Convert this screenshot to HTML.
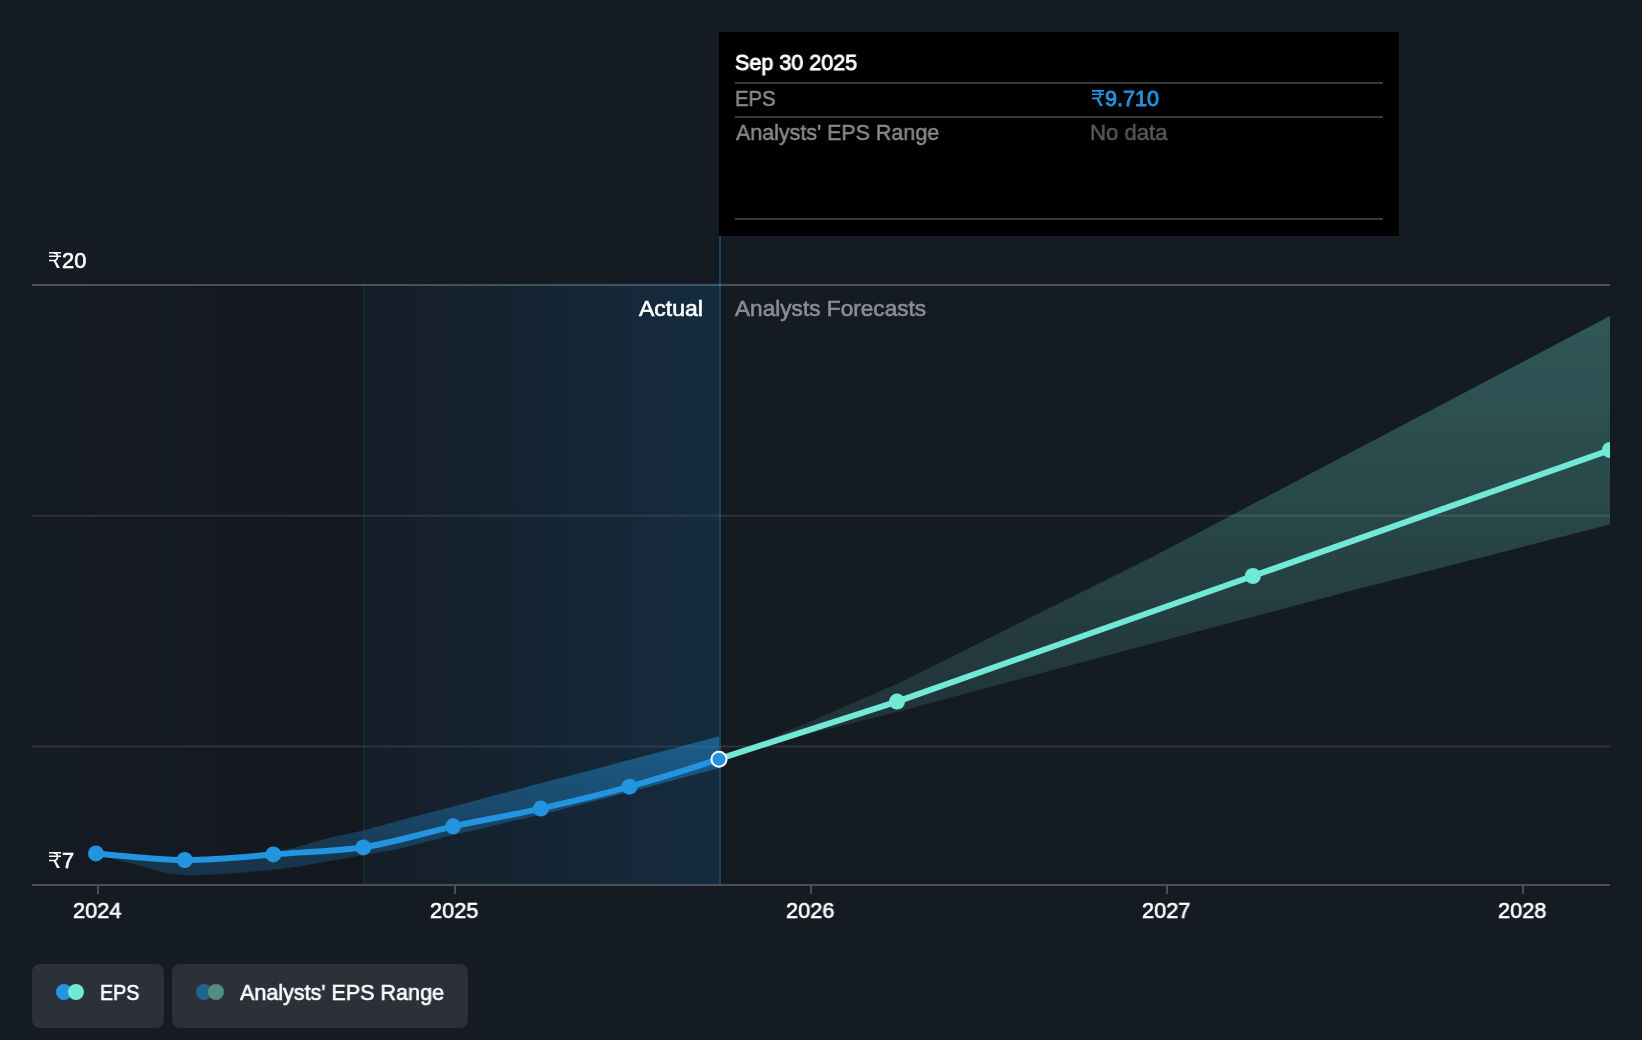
<!DOCTYPE html>
<html><head><meta charset="utf-8">
<style>
html,body{margin:0;padding:0;}
body{width:1642px;height:1040px;overflow:hidden;background:#151b23;position:relative;font-family:"Liberation Sans",sans-serif;}
.t{position:absolute;white-space:nowrap;line-height:1;font-size:23.5px;-webkit-text-stroke-width:0.6px;will-change:transform;transform-origin:0 0;}
svg.chart{position:absolute;left:0;top:0;}
.rs{display:inline-block;width:12px;height:16.3px;vertical-align:baseline;margin-right:1px;}
.sx{display:inline-block;transform-origin:0 0;}
.tip{position:absolute;left:719px;top:32px;width:680px;height:204px;background:#000;}
.sep{position:absolute;left:16px;width:648px;height:2px;background:#3a3a3a;}
.btn{position:absolute;top:964px;height:64px;background:#2c3039;border-radius:8px;}
.dot{position:absolute;width:16px;height:16px;border-radius:50%;top:20px;}
</style></head>
<body>
<svg class="chart" width="1642" height="1040" viewBox="0 0 1642 1040">
  <defs>
    <linearGradient id="gpast" x1="0" x2="1" y1="0" y2="0">
      <stop offset="0" stop-color="#000" stop-opacity="0"/>
      <stop offset="1" stop-color="#000" stop-opacity="0.12"/>
    </linearGradient>
    <linearGradient id="gact" x1="0" x2="1" y1="0" y2="0">
      <stop offset="0" stop-color="#146aaa" stop-opacity="0.03"/>
      <stop offset="1" stop-color="#146aaa" stop-opacity="0.21"/>
    </linearGradient>
    <linearGradient id="gband" gradientUnits="userSpaceOnUse" x1="0" x2="0" y1="736" y2="875">
      <stop offset="0" stop-color="#2394df" stop-opacity="0.478"/>
      <stop offset="1" stop-color="#2394df" stop-opacity="0.208"/>
    </linearGradient>
    <linearGradient id="gteal" gradientUnits="userSpaceOnUse" x1="0" x2="0" y1="316" y2="759">
      <stop offset="0" stop-color="#71e9d6" stop-opacity="0.297"/>
      <stop offset="1" stop-color="#71e9d6" stop-opacity="0.103"/>
    </linearGradient>
    <clipPath id="clip"><rect x="32" y="0" width="1578" height="886"/></clipPath>
  </defs>
  <!-- past shaded -->
  <rect x="32" y="286" width="331" height="598" fill="url(#gpast)"/>
  <!-- actual shaded -->
  
  <!-- gridlines -->
  <rect x="32" y="284" width="1578" height="2" fill="#4b4f56"/>
  <rect x="32" y="514.7" width="1578" height="2" fill="#2e323a"/>
  <rect x="32" y="745.5" width="1578" height="2" fill="#2e323a"/>
  <!-- vertical lines -->
  
  
  <!-- actual shaded -->
  <rect x="365" y="284" width="354" height="600" fill="url(#gact)"/>
  <!-- vertical lines -->
  <rect x="363" y="286" width="2" height="598" fill="#2394df" fill-opacity="0.1"/>
  <rect x="719" y="236" width="2" height="648" fill="#2394df" fill-opacity="0.35"/>
  <!-- axis -->
  <rect x="32" y="884" width="1578" height="2" fill="#4a4e55"/>
  <rect x="97" y="886" width="2" height="8" fill="#4a4e55"/>
  <rect x="454" y="886" width="2" height="8" fill="#4a4e55"/>
  <rect x="810" y="886" width="2" height="8" fill="#4a4e55"/>
  <rect x="1166" y="886" width="2" height="8" fill="#4a4e55"/>
  <rect x="1522" y="886" width="2" height="8" fill="#4a4e55"/>
  <g clip-path="url(#clip)">
  <!-- actual band -->
  <path d="M96,853.4 C101.7,855.0 115.2,859.4 130.0,863.0 C144.8,866.6 161.2,873.9 185.0,875.0 C208.8,876.1 248.8,872.1 273.0,869.7 C297.2,867.4 315.0,863.4 330.0,860.9 C345.0,858.4 351.3,857.1 363.0,855.0 C374.7,852.9 385.0,851.7 400.0,848.4 C415.0,845.1 433.0,839.9 453.0,835.0 C473.0,830.1 502.2,823.5 520.0,819.3 C537.8,815.1 540.0,814.9 560.0,809.9 C580.0,804.9 613.5,796.3 640.0,789.3 C666.5,782.3 705.8,771.5 719.0,768.0 L719,736.4 C704.2,740.3 659.7,752.0 630.0,759.8 C600.3,767.6 570.5,775.5 541.0,783.3 C511.5,791.1 476.5,800.3 453.0,806.5 C429.5,812.7 415.0,816.5 400.0,820.5 C385.0,824.5 374.7,827.6 363.0,830.5 C351.3,833.4 345.0,834.2 330.0,837.8 C315.0,841.4 297.2,848.3 273.0,852.0 C248.8,855.7 214.5,859.8 185.0,860.0 C155.5,860.2 110.8,854.5 96.0,853.4 Z" fill="url(#gband)"/>
  <!-- forecast band -->
  <path d="M719.3,758.8 L780,734.6 L897,684 L1150,558.2 L1253,504 L1612,315 L1612,524 L1350,591.1 L1150,643.9 L897,712 L780,741 Z" fill="url(#gteal)"/>
  <!-- actual line -->
  <path d="M96,853.4 C125,856 155,859.5 184.7,860 C215,860 245,857 273.3,854.4 C305,852 335,851 363.3,847.4 C395,842 425,833 453.1,826.3 C483,820 512,815 540.8,808.6 C570,802 600,795 629.5,786.7 C660,778 690,769 719.3,758.8" fill="none" stroke="#2394df" stroke-width="6" stroke-linejoin="round"/>
  <!-- forecast line -->
  <path d="M719.3,758.8 L897,701.6 L1252.9,576 L1610,450" fill="none" stroke="#71e9d6" stroke-width="6" stroke-linejoin="round"/>
  <g fill="#2394df">
    <circle cx="96" cy="853.4" r="8"/>
    <circle cx="184.7" cy="860" r="8"/>
    <circle cx="273.3" cy="854.4" r="8"/>
    <circle cx="363.3" cy="847.4" r="8"/>
    <circle cx="453.1" cy="826.3" r="8"/>
    <circle cx="540.8" cy="808.6" r="8"/>
    <circle cx="629.5" cy="786.7" r="8"/>
  </g>
  <g fill="#71e9d6">
    <circle cx="897" cy="701.6" r="8"/>
    <circle cx="1252.9" cy="576" r="8"/>
    <circle cx="1610" cy="450" r="8"/>
  </g>
  <circle cx="719" cy="759.2" r="7.5" fill="#2394df" stroke="#fff" stroke-width="2"/>
  </g>
</svg>

<!-- y labels -->
<div class="t" style="left:49px;top:249.75px;font-size:22px;color:#fff;"><svg class="rs" viewBox="0 0 12 16.3"><g fill="none" stroke="#fff"><path d="M0,0.85H12M0,4.25H12" stroke-width="1.5"/><path d="M4.8,0.85C9.7,1.1 9.7,8.45 4.8,8.45H0" stroke-width="1.6"/></g><path d="M4.3,8.2L6.5,8.2L11.1,16.3L8.1,16.3Z" fill="#fff"/></svg><span class="sx" style="transform:scaleX(0.993)">20</span></div>
<div class="t" style="left:49px;top:849.75px;font-size:22px;color:#fff;"><svg class="rs" viewBox="0 0 12 16.3"><g fill="none" stroke="#fff"><path d="M0,0.85H12M0,4.25H12" stroke-width="1.5"/><path d="M4.8,0.85C9.7,1.1 9.7,8.45 4.8,8.45H0" stroke-width="1.6"/></g><path d="M4.3,8.2L6.5,8.2L11.1,16.3L8.1,16.3Z" fill="#fff"/></svg><span class="sx" style="transform:scaleX(0.993)">7</span></div>

<!-- region labels -->
<div class="t" style="left:639px;top:297.85px;font-size:22.5px;color:#fff;transform:scaleX(1.0215)">Actual</div>
<div class="t" style="left:735.3px;top:297.85px;font-size:22.5px;color:#8b8e94;transform:scaleX(1.0058)">Analysts Forecasts</div>

<!-- x labels -->
<div class="t" style="left:72.7px;top:899.75px;font-size:22px;color:#fff;transform:scaleX(0.988)">2024</div>
<div class="t" style="left:429.7px;top:899.75px;font-size:22px;color:#fff;transform:scaleX(0.988)">2025</div>
<div class="t" style="left:785.8px;top:899.75px;font-size:22px;color:#fff;transform:scaleX(0.988)">2026</div>
<div class="t" style="left:1141.8px;top:899.75px;font-size:22px;color:#fff;transform:scaleX(0.988)">2027</div>
<div class="t" style="left:1497.7px;top:899.75px;font-size:22px;color:#fff;transform:scaleX(0.988)">2028</div>

<!-- tooltip -->
<div class="tip">
  <div class="t" style="left:15.8px;top:19.5px;font-size:22.5px;-webkit-text-stroke-width:0.9px;color:#fff;transform:scaleX(0.958)">Sep 30 2025</div>
  <div class="sep" style="top:50px;"></div>
  <div class="t" style="left:15.5px;top:55.5px;font-size:22.5px;-webkit-text-stroke-width:0.5px;color:#8a8a8a;transform:scaleX(0.902)">EPS</div>
  <div class="t" style="left:373px;top:55.5px;font-size:22.5px;color:#2394df;-webkit-text-stroke-width:0.9px"><svg class="rs" viewBox="0 0 12 16.3"><g fill="none" stroke="#2394df"><path d="M0,0.85H12M0,4.25H12" stroke-width="1.6"/><path d="M4.8,0.85C9.7,1.1 9.7,8.45 4.8,8.45H0" stroke-width="1.7000000000000002"/></g><path d="M4.3,8.2L6.5,8.2L11.1,16.3L8.1,16.3Z" fill="#2394df"/></svg><span class="sx" style="transform:scaleX(0.96)">9.710</span></div>
  <div class="sep" style="top:84px;"></div>
  <div class="t" style="left:16.5px;top:89.5px;font-size:22.5px;-webkit-text-stroke-width:0.5px;color:#8a8a8a;transform:scaleX(0.953)">Analysts' EPS Range</div>
  <div class="t" style="left:370.8px;top:89.5px;font-size:22.5px;-webkit-text-stroke-width:0.5px;color:#595959;transform:scaleX(0.984)">No data</div>
  <div class="sep" style="top:186px;"></div>
</div>

<!-- legend -->
<div class="btn" style="left:32px;width:132px;">
  <div class="dot" style="left:24px;background:#2394df;"></div>
  <div class="dot" style="left:36px;background:#71e9d6;"></div>
  <div class="t" style="left:68.2px;top:18px;font-size:22.5px;color:#fff;transform:scaleX(0.875)">EPS</div>
</div>
<div class="btn" style="left:172px;width:296px;">
  <div class="dot" style="left:24px;background:#24628f;"></div>
  <div class="dot" style="left:36px;background:#4f8d86;"></div>
  <div class="t" style="left:68.4px;top:18px;font-size:22.5px;color:#fff;transform:scaleX(0.957)">Analysts' EPS Range</div>
</div>
</body></html>
